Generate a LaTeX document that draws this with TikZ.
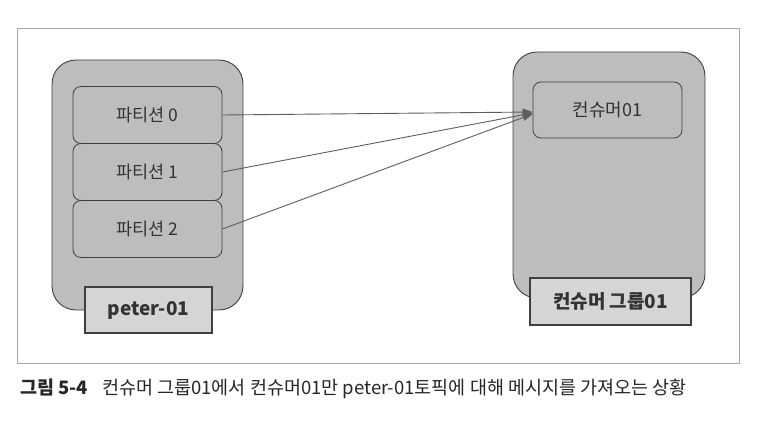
\documentclass[tikz,border=0pt]{standalone}
\usepackage{fontspec}
\setmainfont{Noto Sans CJK KR}
\usetikzlibrary{arrows.meta}
\definecolor{boxgray}{HTML}{BDBDBD}
\definecolor{taggray}{HTML}{D5D5D5}
\definecolor{edgegray}{HTML}{404040}
\definecolor{txtgray}{HTML}{333333}
\begin{document}
\begin{tikzpicture}[x=1pt,y=-1pt,
  grp/.style={draw=edgegray,fill=boxgray,rounded corners=24pt,line width=.9pt},
  part/.style={draw=edgegray,fill=boxgray,rounded corners=8pt,line width=.8pt,
    minimum width=149pt,minimum height=57pt,text=txtgray,font=\fontsize{17.5}{20}\selectfont},
  tag/.style={draw=edgegray,fill=taggray,line width=1.5pt,text=txtgray,
    font=\bfseries\fontsize{19}{21}\selectfont},
  feed/.style={->,>={Triangle[length=10pt,width=7pt]},draw=edgegray!85,line width=.9pt}]
   \useasboundingbox (0,0) rectangle (764,428);
   \draw[gray!70,line width=.6pt] (17,28) rectangle (739,363);

   \node[grp,minimum width=191pt,minimum height=250pt] (g0) at (147.5,185) {};
   \node[part] (p0) at (147.5,115) {파티션 0};
   \node[part] (p1) at (147.5,172) {파티션 1};
   \node[part] (p2) at (147.5,229) {파티션 2};
   \node[tag,minimum width=127pt,minimum height=46pt] (t0) at (148.5,310) {peter-01};

   \node[grp,minimum width=192pt,minimum height=246pt] (g1) at (609,175) {};
   \node[part,minimum height=56pt,font=\fontsize{18}{20}\selectfont] (c1) at (607.5,110) {컨슈머01};
   \node[tag,minimum width=161pt,minimum height=47pt] (t1) at (610.5,301.5) {컨슈머 그룹01};

   \path (p0.east) edge[feed] ([yshift=-2pt]c1.west);
   \path (p1.east) edge[feed] ([yshift=-3pt]c1.west);
   \path (p2.east) edge[feed] ([yshift=-4pt]c1.west);

   \node[anchor=base west,inner sep=0pt,text=black!85,font=\fontsize{18.5}{21}\selectfont]
     (cap) at (20,394) {\textbf{그림 5-4}\hspace{14pt}컨슈머 그룹01에서 컨슈머01만 peter-01토픽에 대해 메시지를 가져오는 상황};
\end{tikzpicture}
\end{document}
